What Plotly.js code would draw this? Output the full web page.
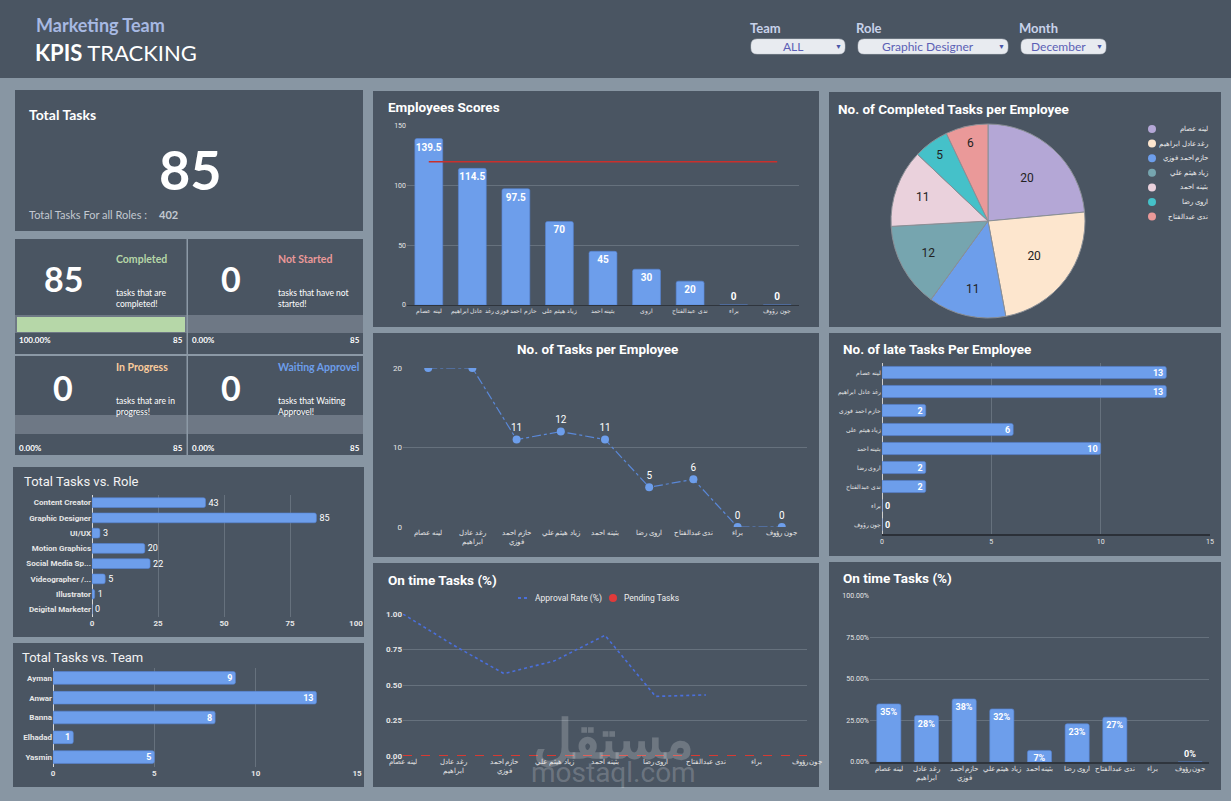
<!DOCTYPE html>
<html><head><meta charset="utf-8">
<script src="https://cdn.plot.ly/plotly-3.0.1.min.js"></script>
<style>html,body{margin:0;padding:0;background:#8896a3;overflow:hidden}#chart{width:1231px;height:801px}</style>
</head><body><div id="chart"></div>
<script>
// ---------- DATA ----------
const employees = ["لينه عصام","رغد عادل ابراهيم","حازم احمد فوزي","زياد هيثم علي","بثينه احمد","اروى رضا","ندى عبدالفتاح","براء","جون رؤوف"];
const employeesWrapped = ["لينه عصام","رغد عادل<br>ابراهيم","حازم احمد<br>فوزي","زياد هيثم علي","بثينه احمد","اروى رضا","ندى عبدالفتاح","براء","جون رؤوف"];
const scoreNames = ["لينه عصام","رغد عادل ابراهيم","حازم احمد فوزي","زياد هيثم علي","بثينه احمد","اروى","ندى عبدالفتاح","براء","جون رؤوف"];
const scores = [139.5,114.5,97.5,70,45,30,20,0,0];
const scoreTarget = [120,120,120,120,120,120,120,120,120];
const tasksPerEmployee = [20,20,11,12,11,5,6,0,0];
const completedNames = ["لينه عصام","رغد عادل ابراهيم","حازم احمد فوزي","زياد هيثم علي","بثينه احمد","اروى رضا","ندى عبدالفتاح"];
const completedTasks = [20,20,11,12,11,5,6];
const lateTasks = [13,13,2,6,10,2,2,0,0];
const approvalRate = [1.0,0.78,0.58,0.67,0.85,0.42,0.43,null,null];
const pendingTasks = [0,0,0,0,0,0,0,0,0];
const onTimeRate = [0.35,0.28,0.38,0.32,0.07,0.23,0.27,null,0];
const roles = ["Content Creator","Graphic Designer","UI/UX","Motion Graphics","Social Media Sp...","Videographer /...","Illustrator","Deigital Marketer"];
const roleTasks = [43,85,3,20,22,5,1,0];
const teams = ["Ayman","Anwar","Banna","Elhadad","Yasmin"];
const teamTasks = [9,13,8,1,5];
const totalTasks = 85;
const totalAllRoles = 402;
const kpiCompleted = 85, kpiNotStarted = 0, kpiInProgress = 0, kpiWaiting = 0;
const filterTeam = "ALL", filterRole = "Graphic Designer", filterMonth = "December";

// ---------- HELPERS ----------
const W = 1231, H = 801;
const X = p => p / W, Y = p => 1 - p / H;
const dx = (a, b) => [X(a), X(b)], dy = (bot, top) => [Y(bot), Y(top)];
const PANEL = '#4a5562', BG = '#8896a3', BLUE = '#6d9eeb', GRID = '#66717d';
const shapes = [], anns = [];
function rect(x0, y0, x1, y1, color, layer) {
  shapes.push({type:'rect', xref:'paper', yref:'paper', x0:X(x0), x1:X(x1), y0:Y(y1), y1:Y(y0),
    fillcolor:color, line:{width:0}, layer:layer||'below'});
}
function roundRect(x0, y0, x1, y1, r, color) {
  const p = (x, y) => X(x) + ',' + Y(y);
  const d = 'M' + p(x0 + r, y0) + ' L' + p(x1 - r, y0) + ' Q' + p(x1, y0) + ' ' + p(x1, y0 + r) +
    ' L' + p(x1, y1 - r) + ' Q' + p(x1, y1) + ' ' + p(x1 - r, y1) + ' L' + p(x0 + r, y1) +
    ' Q' + p(x0, y1) + ' ' + p(x0, y1 - r) + ' L' + p(x0, y0 + r) + ' Q' + p(x0, y0) + ' ' + p(x0 + r, y0) + ' Z';
  shapes.push({type:'path', xref:'paper', yref:'paper', path:d, fillcolor:color, line:{color:'#c8ccd4', width:0.5}, layer:'below'});
}
function ann(x, y, text, o) {
  o = o || {};
  anns.push({xref:'paper', yref:'paper', x:X(x), y:Y(y), text:text, showarrow:false,
    xanchor:o.xa || 'left', yanchor:o.ya || 'middle', align:o.align || 'left',
    font:{family:o.family || 'Roboto', size:o.size || 12, color:o.color || '#ffffff', weight:o.weight},
    opacity:o.opacity});
}

// ---------- PANELS ----------
rect(0, 0, 1231, 78, PANEL);
rect(15, 90, 363, 231, PANEL);
rect(15, 239, 363, 455, PANEL);
rect(13, 467, 364, 637, PANEL);
rect(13, 643, 364, 787, PANEL);
rect(373, 91, 819, 327, PANEL);
rect(373, 333, 819, 557, PANEL);
rect(373, 563, 819, 787, PANEL);
rect(829, 92, 1221, 327, PANEL);
rect(829, 333, 1221, 556, PANEL);
rect(829, 562, 1221, 790, PANEL);
// KPI grid details
rect(15, 315, 363, 333, '#6e7885');
rect(15, 415, 363, 434, '#6e7885');
rect(186.5, 239, 188, 455, '#8c99a6');
rect(15, 354, 363, 356, '#8c99a6');
rect(17, 317, 17 + (185 - 17) * kpiCompleted / totalTasks, 332, '#b6d7a8');

// ---------- HEADER ----------
ann(34, 25, 'Marketing Team', {family:'Lato', size:18, color:'#a7b9e3', weight:700});
ann(33, 53, '<b>KPIS</b> TRACKING', {family:'Lato', size:22, color:'#ffffff'});
[['Team', 748, 751, 845, filterTeam], ['Role', 854, 858, 1008, filterRole], ['Month', 1017, 1021, 1106, filterMonth]].forEach(f => {
  ann(f[1], 28, f[0], {family:'Lato', size:13, color:'#c8d2ea', weight:700});
  roundRect(f[2], 39, f[3], 54, 6, '#e8ebf0');
  ann((f[2] + f[3] - 10) / 2, 46.5, f[4], {xa:'center', family:'Lato', size:12, color:'#5b5fb5'});
  ann(f[3] - 7, 46.5, '▼', {xa:'center', size:7, color:'#4a56a8'});
});

// ---------- KPI TEXT ----------
ann(27, 114, 'Total Tasks', {family:'Lato', size:14, weight:700});
ann(190, 170, String(totalTasks), {xa:'center', family:'Lato', size:54, weight:700});
ann(27, 214, 'Total Tasks For all Roles :', {family:'Lato', size:11, color:'#c2c8d0'});
ann(157, 214, String(totalAllRoles), {family:'Lato', size:11, color:'#c2c8d0', weight:700});
const kpis = [
  {v:kpiCompleted, t:'Completed', c:'#b6d7a8', d:'tasks that are<br>completed!', cx:63, tx:114, y:0},
  {v:kpiNotStarted, t:'Not Started', c:'#ea9999', d:'tasks that have not<br>started!', cx:231, tx:276, y:0},
  {v:kpiInProgress, t:'In Progress', c:'#f9cb9c', d:'tasks that are in<br>progress!', cx:63, tx:114, y:1},
  {v:kpiWaiting, t:'Waiting Approvel', c:'#6d9eeb', d:'tasks that Waiting<br>Approvel!', cx:231, tx:276, y:1}
];
kpis.forEach((k, i) => {
  const oy = k.y * 108;
  ann(k.cx, 279 + oy, String(k.v), {xa:'center', family:'Lato', size:34, weight:700});
  ann(k.tx, 259 + oy, k.t, {family:'Lato', size:10.5, color:k.c, weight:700});
  ann(k.tx, 298 + oy, k.d, {family:'Lato', size:8.5, color:'#ffffff'});
  const left = (i % 2 === 0) ? 17 : 190, right = (i % 2 === 0) ? 185 : 362;
  ann(left, 340 + oy, (k.v / totalTasks * 100).toFixed(2) + '%', {family:'Lato', size:8, weight:700});
  ann(right, 340 + oy, String(totalTasks), {xa:'right', family:'Lato', size:8, weight:700});
});

// ---------- CHART TITLES ----------
ann(386, 107, 'Employees Scores', {size:13.5, weight:700});
ann(836, 109, 'No. of Completed Tasks per Employee', {size:13.5, weight:700});
ann(597, 349, 'No. of Tasks per Employee', {xa:'center', size:13.5, weight:700});
ann(841, 349, 'No. of late Tasks Per Employee', {size:13.5, weight:700});
ann(386, 580, 'On time Tasks (%)', {size:13.5, weight:700});
ann(841, 578, 'On time Tasks (%)', {size:13.5, weight:700});
ann(22, 481, 'Total Tasks vs. Role', {size:13, color:'#f2f2f2'});
ann(20, 657, 'Total Tasks vs. Team', {size:13, color:'#f2f2f2'});

// legend for on-time (left)
shapes.push({type:'line', xref:'paper', yref:'paper', x0:X(518), x1:X(529), y0:Y(598), y1:Y(598), line:{color:'#4a6fdc', width:2, dash:'dot'}});
ann(533, 598, 'Approval Rate (%)', {size:8.5, color:'#eeeeee'});
shapes.push({type:'circle', xref:'paper', yref:'paper', x0:X(609), x1:X(617), y0:Y(602), y1:Y(594), fillcolor:'#e03a3a', line:{width:0}});
ann(622, 598, 'Pending Tasks', {size:8.5, color:'#eeeeee'});

// pie legend (manual, right aligned)
const pieColors = ['#b4a7d6', '#fde6ce', '#6d9eeb', '#76a5af', '#ead1dc', '#45c1c9', '#ea9999'];
completedNames.forEach((n, i) => {
  const cy = 129 + i * 14.6;
  shapes.push({type:'circle', xref:'paper', yref:'paper', x0:X(1148), x1:X(1156), y0:Y(cy + 4), y1:Y(cy - 4), fillcolor:pieColors[i], line:{width:0}});
  ann(1210, cy, n, {xa:'right', size:7, color:'#eeeeee'});
});

// watermark
ann(613, 737, 'مستقل', {xa:'center', family:'Noto Sans', size:54, weight:700, color:'rgba(255,255,255,0.2)'});
ann(613, 772, 'mostaql.com', {xa:'center', family:'Roboto', size:28, color:'rgba(255,255,255,0.2)'});

// ---------- TRACES ----------
const tf = (s, b) => ({family:'Roboto', size:s, color:'#ffffff', weight:b ? 700 : 400});
const barMarker = {color:BLUE, line:{color:'#5583d4', width:0.6}, cornerradius:2};
const pos = arr => arr.map(v => v > 0 ? 'inside' : 'outside');
const traces = [
  {type:'bar', x:scoreNames, y:scores, xaxis:'x', yaxis:'y', marker:barMarker,
   text:scores.map(String), textposition:pos(scores), insidetextanchor:'end', textangle:0, constraintext:'none',
   insidetextfont:tf(10, true), outsidetextfont:tf(10, true), cliponaxis:false},
  {type:'scatter', mode:'lines', x:scoreNames, y:scoreTarget, xaxis:'x', yaxis:'y', line:{color:'#c9302c', width:1.5}},
  {type:'scatter', mode:'lines+markers+text', x:employeesWrapped, y:tasksPerEmployee, xaxis:'x2', yaxis:'y2',
   line:{color:'#5a88d8', width:1.2, dash:'dashdot'}, marker:{color:BLUE, size:8},
   text:tasksPerEmployee.map(v => v >= 20 ? '' : String(v)), textposition:'top center', textfont:tf(10, false)},
  {type:'scatter', mode:'lines', x:employeesWrapped, y:pendingTasks, xaxis:'x3', yaxis:'y3', line:{color:'#d83a32', width:2, dash:'dash'}},
  {type:'scatter', mode:'lines', x:employeesWrapped, y:approvalRate, xaxis:'x3', yaxis:'y3', line:{color:'#4a6fdc', width:1.6, dash:'dot'}},
  {type:'pie', values:completedTasks, labels:completedNames, sort:false, direction:'clockwise', rotation:0,
   marker:{colors:pieColors, line:{color:'#8a8f96', width:1}}, textinfo:'value', textposition:'inside',
   insidetextorientation:'horizontal', textfont:{family:'Roboto', size:12, color:'#222222'},
   domain:{x:dx(891, 1085), y:dy(318, 124)}},
  {type:'bar', orientation:'h', x:lateTasks, y:employees, xaxis:'x4', yaxis:'y4', marker:barMarker,
   text:lateTasks.map(String), textposition:pos(lateTasks), insidetextanchor:'end', textangle:0, constraintext:'none',
   insidetextfont:tf(9, true), outsidetextfont:tf(9, true), cliponaxis:false},
  {type:'bar', x:employeesWrapped, y:onTimeRate, xaxis:'x5', yaxis:'y5', marker:barMarker,
   texttemplate:'%{y:.0%}', textposition:pos(onTimeRate), insidetextanchor:'end', textangle:0, constraintext:'none',
   insidetextfont:tf(9, true), outsidetextfont:tf(9, true), cliponaxis:false},
  {type:'bar', orientation:'h', x:roleTasks, y:roles, xaxis:'x6', yaxis:'y6', marker:barMarker,
   text:roleTasks.map(String), textposition:'outside', textangle:0, constraintext:'none',
   outsidetextfont:tf(9, false), cliponaxis:false},
  {type:'bar', orientation:'h', x:teamTasks, y:teams, xaxis:'x7', yaxis:'y7', marker:barMarker,
   text:teamTasks.map(String), textposition:'inside', insidetextanchor:'end', textangle:0, constraintext:'none',
   insidetextfont:tf(9, true), cliponaxis:false}
];

// ---------- AXES ----------
const tick = (s, b) => ({family:'Roboto', size:s, color:'#e6e6e6', weight:b ? 700 : 400});
const catX = (dom, anchor, size) => ({domain:dom, anchor:anchor, type:'category', showgrid:false, zeroline:false,
  tickfont:tick(size || 7), ticks:'', tickangle:0, fixedrange:true, showline:false});
const valY = (dom, anchor, range, dtick, fmt, size, bold) => ({domain:dom, anchor:anchor, range:range, dtick:dtick,
  tickformat:fmt, gridcolor:GRID, gridwidth:1, zeroline:false, tickfont:tick(size || 7, bold), ticks:'', showline:false});
const valX = (dom, anchor, range, dtick, size, bold) => ({domain:dom, anchor:anchor, range:range, dtick:dtick,
  gridcolor:GRID, gridwidth:1, zeroline:true, zerolinecolor:'#d8d8d8', zerolinewidth:1, tickfont:tick(size || 7, bold), ticks:''});
const catY = (dom, anchor, size, bold) => ({domain:dom, anchor:anchor, type:'category', autorange:'reversed', showgrid:false,
  tickfont:tick(size || 7, bold), ticks:'', ticklen:0});

const layout = {
  width:W, height:H, margin:{l:0, r:0, t:0, b:0}, paper_bgcolor:BG, plot_bgcolor:'rgba(0,0,0,0)',
  showlegend:false, font:{family:'Roboto', color:'#ffffff'},
  xaxis:catX(dx(407, 799), 'y', 6), yaxis:valY(dy(305, 126), 'x', [0, 150], 50, '', 7),
  xaxis2:catX(dx(403, 807), 'y2', 7), yaxis2:valY(dy(527, 368), 'x2', [0, 20], 10, '', 8),
  xaxis3:catX(dx(403, 807), 'y3', 7), yaxis3:valY(dy(756, 614), 'x3', [0, 1], 0.25, '.2f', 8, true),
  xaxis4:Object.assign(valX(dx(882, 1210), 'y4', [0, 15], 5, 7), {showline:true, linecolor:'#2b3038', linewidth:2, zerolinecolor:'#cfcfcf'}),
  yaxis4:catY(dy(534, 363), 'x4', 6),
  xaxis5:catX(dx(870, 1209), 'y5', 6.5), yaxis5:valY(dy(762, 596), 'x5', [0, 1], 0.25, '.2%', 7),
  xaxis6:valX(dx(92, 356), 'y6', [0, 100], 25, 8, true), yaxis6:catY(dy(617, 495), 'x6', 8, true),
  xaxis7:valX(dx(53, 357), 'y7', [0, 15], 5, 8, true), yaxis7:catY(dy(767, 668), 'x7', 8, true),
  bargap:0.36, shapes:shapes, annotations:anns
};
layout.xaxis5.showline = true; layout.xaxis5.linecolor = '#2f353d'; layout.xaxis5.linewidth = 1.5;
layout.xaxis.showline = true; layout.xaxis.linecolor = '#2f353d'; layout.xaxis.linewidth = 1;

Plotly.newPlot('chart', traces, layout, {staticPlot:true, displayModeBar:false});
</script></body></html>
